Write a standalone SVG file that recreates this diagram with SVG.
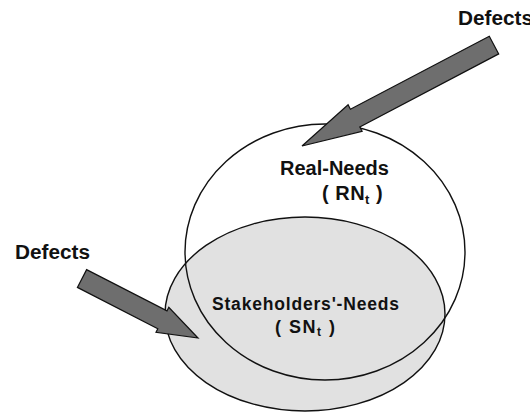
<svg xmlns="http://www.w3.org/2000/svg" width="530" height="412" viewBox="0 0 530 412">
<style>
.lbl{font-family:"Liberation Sans",Arial,sans-serif;font-weight:bold;fill:#111}
.set{stroke:#111;stroke-width:1.4}
.arrow{fill:#6e6e6e;stroke:#111;stroke-width:1.2;stroke-linejoin:miter}
</style>
<rect width="530" height="412" fill="#fff"/>
<g id="stakeholders-needs">
<ellipse class="set" cx="305" cy="314" rx="140" ry="97" fill="#e1e1e1"/>
</g>
<g id="real-needs">
<ellipse class="set" cx="325" cy="252" rx="140" ry="128" fill="none"/>
<text class="lbl" x="280" y="175" font-size="20">Real-Needs</text>
<text class="lbl" x="322" y="200" font-size="20" letter-spacing="0.5">( RN<tspan font-size="13" dy="4">t</tspan><tspan dy="-4"> )</tspan></text>
</g>
<g id="sn-label">
<text class="lbl" x="212" y="310" font-size="17.5" textLength="187" lengthAdjust="spacing">Stakeholders'-Needs</text>
<text class="lbl" x="275" y="333" font-size="18" letter-spacing="1.5">( SN<tspan font-size="12" dy="3">t</tspan><tspan dy="-3"> )</tspan></text>
</g>
<g id="defects-top">
<text class="lbl" x="458" y="25" font-size="20" textLength="75" lengthAdjust="spacingAndGlyphs">Defects</text>
</g>
<g id="defects-left">
<text class="lbl" x="15" y="259" font-size="20" textLength="75" lengthAdjust="spacingAndGlyphs">Defects</text>
</g>
<g id="connectors">
<polygon class="arrow" points="489.3,36.2 350.4,109.2 348.1,104.7 302,146 362.1,131.3 359.8,126.9 498.7,53.9"/>
<polygon class="arrow" points="86.6,269.6 167,310.9 168.8,307.3 198,338 156,332.3 157.8,328.7 77.4,287.4"/>
</g>
</svg>
